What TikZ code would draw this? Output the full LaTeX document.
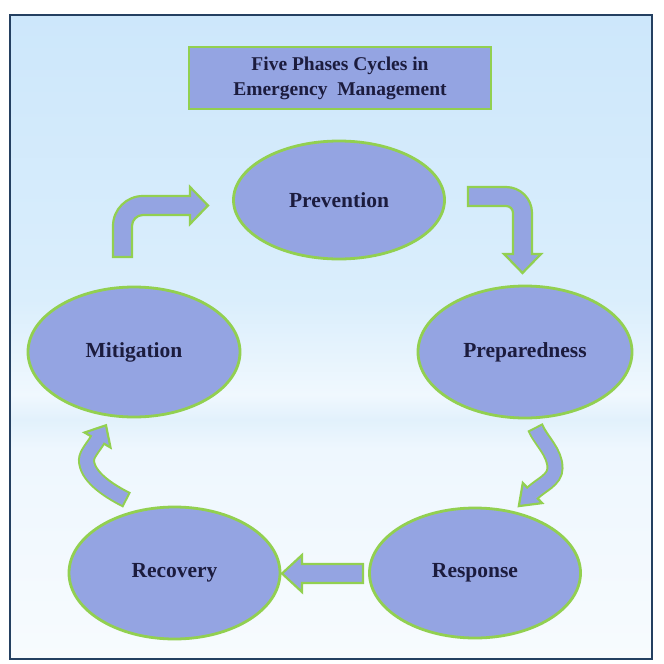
\documentclass[tikz,border=0pt]{standalone}
\usepackage{fontspec}
\setmainfont{Liberation Serif}
\usetikzlibrary{shapes.geometric}
\definecolor{phasefill}{RGB}{148,164,226}
\definecolor{phaseline}{RGB}{146,208,80}
\definecolor{phasetext}{RGB}{28,28,62}
\definecolor{framecol}{RGB}{36,64,97}
\definecolor{bgtop}{RGB}{205,231,251}
\definecolor{bgmid}{RGB}{218,238,252}
\definecolor{bglight}{RGB}{240,248,254}
\definecolor{bgband}{RGB}{226,241,252}
\definecolor{bglighttwo}{RGB}{238,247,254}
\definecolor{bgbottom}{RGB}{247,251,254}
\pgfdeclareverticalshading{mybg}{100bp}{color(0bp)=(bgbottom); color(25bp)=(bgbottom); color(41.3bp)=(bglighttwo); color(43.6bp)=(bgband); color(45.5bp)=(bglight); color(52.9bp)=(bgmid); color(75bp)=(bgtop); color(100bp)=(bgtop)}
\begin{document}
\begin{tikzpicture}[x=1pt,y=-1pt] % координаты в пикселях, y вниз
\tikzstyle{myphase} = [ellipse, draw=phaseline, line width=2.8pt, fill=phasefill, text=phasetext, font=\fontsize{21.5}{26}\selectfont\bfseries, inner sep=0pt] % phase ellipse style
\tikzstyle{mytitle} = [rectangle, draw=phaseline, line width=2pt, fill=phasefill, text=phasetext, align=center, font=\fontsize{19.5}{25}\selectfont\bfseries, minimum width=302pt, minimum height=62pt] % title box style
\tikzstyle{myarrow} = [draw=phaseline, line width=2.2pt, fill=phasefill, line join=miter] % block arrow style
\tikzstyle{myshaft} = [draw=phaseline, line width=17pt] % curved shaft, outline
\tikzstyle{myshaftin} = [draw=phasefill, line width=13pt, shorten <=2.1pt] % curved shaft, fill
\useasboundingbox (0,0) rectangle (664,664);
\fill[white] (0,0) rectangle (664,664);
\shadedraw[shading=mybg, draw=framecol, line width=2.5pt] (10,15) rectangle (652,659); % рамка с фоном
\node[mytitle] (title) at (340,78) {Five Phases Cycles in\\Emergency~~Management}; % заголовок
\node[myphase, minimum width=211pt, minimum height=118pt] (prevention) at (339,200) {Prevention};
\node[myphase, minimum width=214pt, minimum height=132pt] (preparedness) at (525,352) {Preparedness};
\node[myphase, minimum width=211pt, minimum height=130pt] (response) at (475,573) {Response};
\node[myphase, minimum width=211pt, minimum height=132pt] (recovery) at (174.5,573) {Recovery};
\node[myphase, minimum width=212pt, minimum height=130pt] (mitigation) at (134,352) {Mitigation};
% стрелки между фазами
\draw[myarrow] (113,257) -- (113,226) .. controls (113,209.4) and (126.4,196) .. (143,196) -- (190,196) -- (190,187) -- (208,205.5) -- (190,224) -- (190,215) -- (143,215) .. controls (136.9,215) and (132,219.9) .. (132,226) -- (132,257) -- cycle; % mitigation -> prevention
\draw[myarrow] (468,187) -- (506,187) .. controls (520.4,187) and (532,198.6) .. (532,213) -- (532,254) -- (541,254) -- (522.5,273) -- (504,254) -- (513,254) -- (513,213) .. controls (513,209.1) and (509.9,206) .. (506,206) -- (468,206) -- cycle; % prevention -> preparedness
\draw[myshaft] (535,427) .. controls (540.9,440.8) and (555,452) .. (555,468) .. controls (555,480) and (541.1,484.7) .. (532.5,493); % preparedness -> response
\draw[myarrow] (522.8,482.9) -- (518.8,506.1) -- (542.2,503.1) -- cycle;
\draw[myshaftin] (535,427) .. controls (540.9,440.8) and (555,452) .. (555,468) .. controls (555,480) and (541.1,484.7) .. (532.5,493) -- (531.1,494.4);
\draw[myarrow] (363,564) -- (302,564) -- (302,555) -- (282,573.5) -- (302,592) -- (302,583) -- (363,583) -- cycle; % response -> recovery
\draw[myshaft] (127,500) .. controls (105,489) and (86.5,475) .. (86.5,460) .. controls (86.5,454) and (94,446.1) .. (97.5,440); % recovery -> mitigation
\draw[myarrow] (84.5,432.5) -- (106,425.3) -- (110.5,447.5) -- cycle;
\draw[myshaftin] (127,500) .. controls (105,489) and (86.5,475) .. (86.5,460) .. controls (86.5,454) and (94,446.1) .. (97.5,440) -- (98.5,438.3);
\end{tikzpicture}
\end{document}
